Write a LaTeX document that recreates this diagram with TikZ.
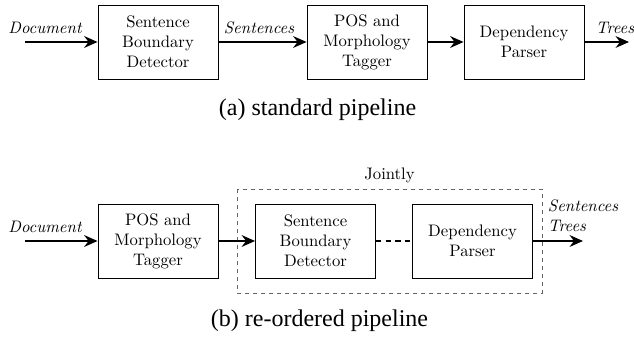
\documentclass[tikz,border=0pt]{standalone}
\usepackage{fontspec}
\newfontfamily\capfont{Liberation Serif}
\usetikzlibrary{arrows.meta}
\tikzset{
  stage/.style={draw, line width=0.5pt, minimum width=72pt, minimum height=44.4pt,
                align=center, inner sep=0pt},
  flow/.style={-{Stealth[length=8pt,width=7pt]}, line width=1.3pt},
  tag/.style={font=\itshape, anchor=base},
  caption/.style={font=\capfont\Large, anchor=base},
}
\begin{document}
\begin{tikzpicture}[x=0.6pt, y=-0.6pt]
  \useasboundingbox (0,0) rectangle (634,338);

  % standard pipeline
  \node[stage] (sbd) at (158,42) {Sentence\\Boundary\\Detector};
  \node[stage] (pos) at (367,42) {POS and\\Morphology\\Tagger};
  \node[stage] (dep) at (524,42) {Dependency\\Parser};
  \coordinate (docin) at (25,42);
  \coordinate (treesout) at (629,42);
  \node[tag] (doc) at (45,34) {Document};
  \node[tag] (sents) at (259,34) {Sentences};
  \node[tag] (trees) at (615,34) {Trees};
  \draw[flow] (docin) -- (sbd);
  \draw[flow] (sbd) -- (pos);
  \draw[flow] (pos) -- (dep);
  \draw[flow] (dep) -- (treesout);
  \node[caption] (capa) at (317.5,116) {(a) standard pipeline};

  % re-ordered pipeline
  \node[stage] (posb) at (158,241) {POS and\\Morphology\\Tagger};
  \node[stage] (sbdb) at (315.5,241) {Sentence\\Boundary\\Detector};
  \node[stage] (depb) at (472.5,241) {Dependency\\Parser};
  \draw[gray!80!black, line width=0.5pt, dash pattern=on 2.6pt off 2.2pt]
    (237,189) rectangle (542,293);
  \node (joint) at (389.5,175) {Jointly};
  \coordinate (docinb) at (25,241);
  \coordinate (outb) at (583,241);
  \node[tag] (docb) at (45,233) {Document};
  \node[tag, anchor=base west] (sentsb) at (542,212) {Sentences};
  \node[tag, anchor=base west] (treesb) at (542,232) {Trees};
  \draw[flow] (docinb) -- (posb);
  \draw[flow] (posb) -- (sbdb);
  \draw[line width=1.3pt, dash pattern=on 3.2pt off 2.6pt] (sbdb) -- (depb);
  \draw[flow] (depb) -- (outb);
  \node[caption] (capb) at (319.5,326) {(b) re-ordered pipeline};
\end{tikzpicture}
\end{document}
